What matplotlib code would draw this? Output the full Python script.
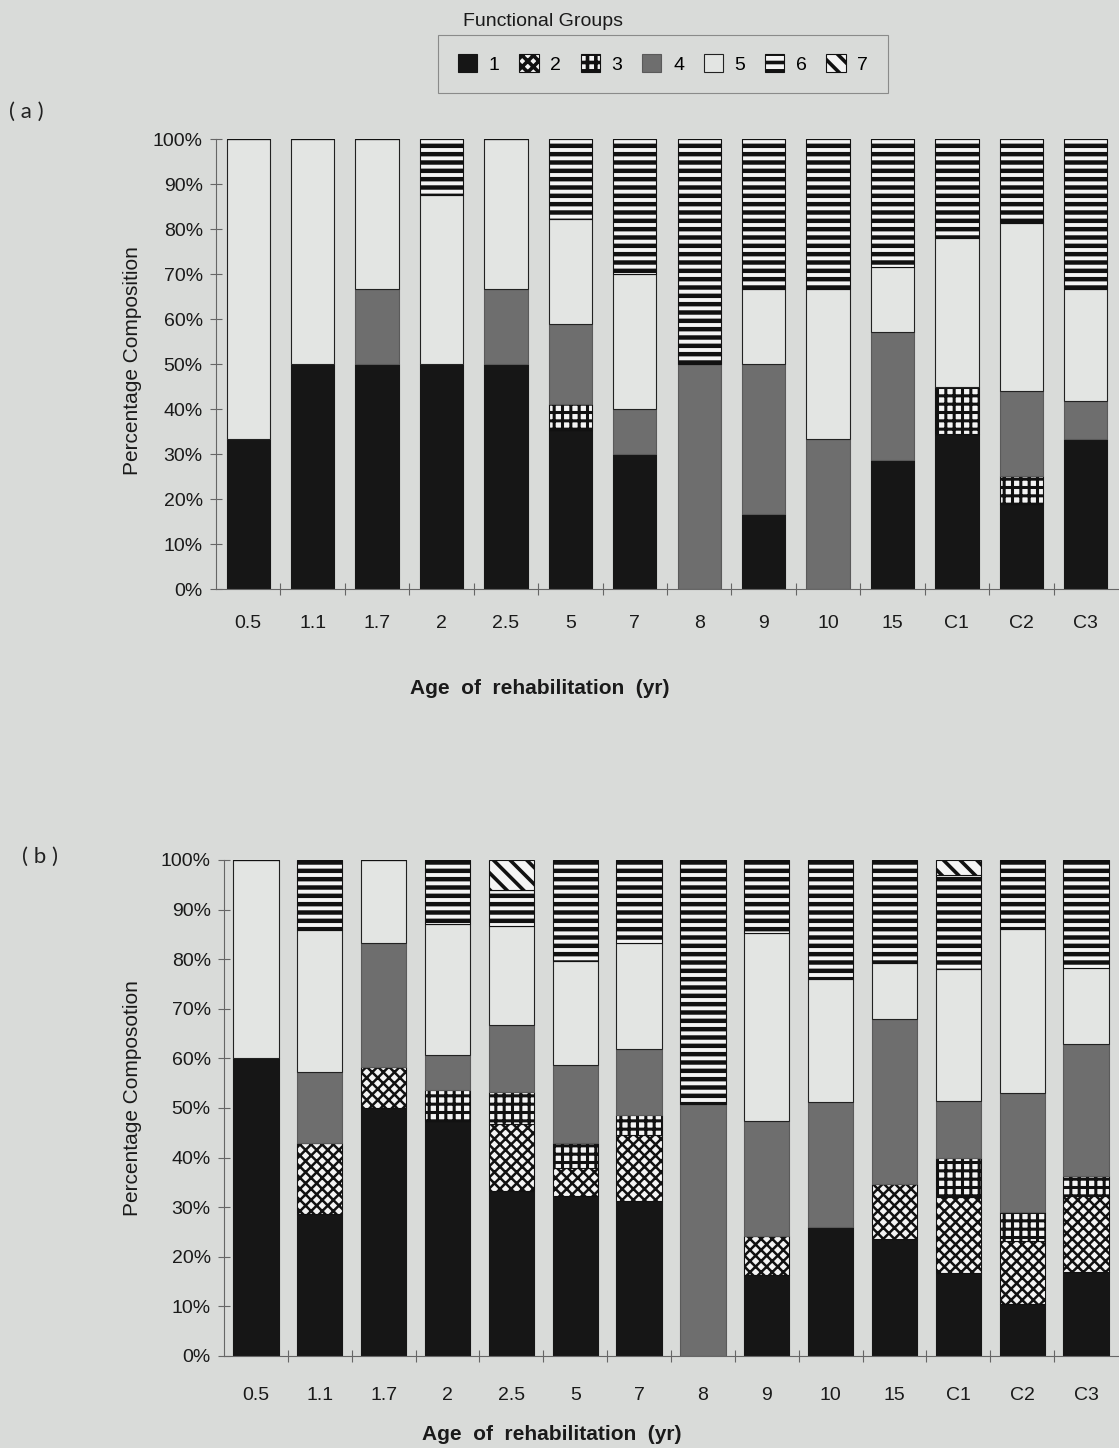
import numpy as np
import matplotlib
matplotlib.use("Agg")
import matplotlib.pyplot as plt
from matplotlib.patches import Patch

# categories (age of rehabilitation, yr)
categories = ['0.5', '1.1', '1.7', '2', '2.5', '5', '7', '8', '9', '10', '15', 'C1', 'C2', 'C3']
group_names = ['1', '2', '3', '4', '5', '6', '7']

# panel (a) percentage composition per functional group
a_g1 = [33.3, 50, 50, 50, 50, 35.3, 30, 0, 16.7, 0, 28.6, 34.5, 18.8, 33.3]
a_g2 = [0, 0, 0, 0, 0, 0, 0, 0, 0, 0, 0, 0, 0, 0]
a_g3 = [0, 0, 0, 0, 0, 5.9, 0, 0, 0, 0, 0, 10.3, 6.3, 0]
a_g4 = [0, 0, 16.7, 0, 16.7, 17.6, 10, 50, 33.3, 33.3, 28.6, 0, 18.8, 8.4]
a_g5 = [66.7, 50, 33.3, 37.5, 33.3, 23.5, 30, 0, 16.7, 33.3, 14.3, 33.1, 37.5, 25]
a_g6 = [0, 0, 0, 12.5, 0, 17.7, 30, 50, 33.3, 33.4, 28.5, 22.1, 18.6, 33.3]
a_g7 = [0, 0, 0, 0, 0, 0, 0, 0, 0, 0, 0, 0, 0, 0]

# panel (b)
b_g1 = [60, 28.6, 50, 47.3, 33.3, 32.3, 31.3, 0, 16.3, 26.1, 23.5, 16.7, 10.5, 17]
b_g2 = [0, 14.3, 8.3, 0, 13.4, 5.6, 13.2, 0, 7.8, 0, 11.2, 15.4, 12.6, 15.2]
b_g3 = [0, 0, 0, 6.4, 6.6, 5.1, 4.1, 0, 0, 0, 0, 7.8, 5.9, 4.1]
b_g4 = [0, 14.3, 25, 6.9, 13.4, 15.7, 13.2, 50.8, 23.2, 25.1, 33.3, 11.6, 24.1, 26.6]
b_g5 = [40, 28.6, 16.7, 26.5, 20, 21, 21.5, 0, 38, 24.9, 11.2, 26.6, 33, 15.3]
b_g6 = [0, 14.2, 0, 12.9, 7.2, 20.3, 16.7, 49.2, 14.7, 23.9, 20.8, 18.8, 13.9, 21.8]
b_g7 = [0, 0, 0, 0, 6.1, 0, 0, 0, 0, 0, 0, 3.1, 0, 0]

BG = '#d9dbd9'
W, H = 1119, 1448

# look of each functional group (face, edge, hatch, hatch linewidth)
STYLES = [
    dict(facecolor='#161616', edgecolor='#161616', hatch=None, hlw=1.0),
    dict(facecolor='#f4f4f4', edgecolor='#111111', hatch='xxx', hlw=1.8),
    dict(facecolor='#f4f4f4', edgecolor='#111111', hatch='++', hlw=2.2),
    dict(facecolor='#6e6e6e', edgecolor='#5a5a5a', hatch=None, hlw=1.0),
    dict(facecolor='#e3e5e3', edgecolor='#222222', hatch=None, hlw=1.0),
    dict(facecolor='#f4f4f4', edgecolor='#111111', hatch='--', hlw=3.2),
    dict(facecolor='#f4f4f4', edgecolor='#111111', hatch='\\\\', hlw=2.6),
]

plt.rcParams['font.family'] = ['Liberation Sans', 'DejaVu Sans']


def draw_panel(ax, groups, bar_width, label_pad):
    """Stacked percentage bars for one panel."""
    x = np.arange(len(categories))
    bottom = np.zeros(len(categories))
    for vals, st in zip(groups, STYLES):
        vals = np.array(vals, dtype=float)
        plt.rcParams['hatch.linewidth'] = st['hlw']
        ax.bar(x, vals, bar_width, bottom=bottom, facecolor=st['facecolor'],
               edgecolor=st['edgecolor'], hatch=st['hatch'], linewidth=0.8)
        bottom += vals

    ax.set_xlim(-0.5, len(categories) - 0.5)
    ax.set_ylim(0, 100)
    ax.set_facecolor('none')
    for side in ['top', 'right']:
        ax.spines[side].set_visible(False)
    for side in ['left', 'bottom']:
        ax.spines[side].set_color('#666666')
        ax.spines[side].set_linewidth(0.8)

    ax.set_yticks(np.arange(0, 101, 10))
    ax.set_yticklabels([f'{v}%' for v in range(0, 101, 10)])
    ax.tick_params(axis='y', direction='inout', length=9, width=0.8, color='#666666',
                   pad=5, labelsize=14, labelcolor='#1a1a1a')

    ax.set_xticks(x)
    ax.set_xticklabels(categories)
    ax.tick_params(axis='x', which='major', length=0, pad=label_pad, labelsize=14,
                   labelcolor='#1a1a1a')
    ax.set_xticks(np.arange(0.5, len(categories) - 1, 1), minor=True)
    ax.tick_params(axis='x', which='minor', direction='inout', length=9, width=0.8,
                   color='#666666')


def main():
    fig = plt.figure(figsize=(W / 100, H / 100), dpi=100, facecolor=BG)

    ax_a = fig.add_axes([216 / W, 1 - 589 / H, 902 / W, 450 / H])
    ax_b = fig.add_axes([224 / W, 1 - 1356 / H, 894 / W, 496 / H])

    draw_panel(ax_a, [a_g1, a_g2, a_g3, a_g4, a_g5, a_g6, a_g7], 0.67, 19)
    draw_panel(ax_b, [b_g1, b_g2, b_g3, b_g4, b_g5, b_g6, b_g7], 0.71, 22)

    # axis titles
    fig.text(133 / W, 1 - 361 / H, 'Percentage Composition', rotation=90,
             ha='center', va='center', fontsize=15, color='#1a1a1a')
    fig.text(133 / W, 1 - 1098 / H, 'Percentage Composotion', rotation=90,
             ha='center', va='center', fontsize=15, color='#1a1a1a')
    fig.text(540 / W, 1 - 688 / H, 'Age  of  rehabilitation  (yr)', ha='center',
             va='center', fontsize=15, fontweight='bold', color='#1a1a1a')
    fig.text(552 / W, 1 - 1434 / H, 'Age  of  rehabilitation  (yr)', ha='center',
             va='center', fontsize=15, fontweight='bold', color='#1a1a1a')

    # panel letters
    fig.text(26 / W, 1 - 112 / H, '( a )', ha='center', va='center', fontsize=16,
             family=['Lato', 'DejaVu Sans'], color='#222222')
    fig.text(40 / W, 1 - 857 / H, '( b )', ha='center', va='center', fontsize=16,
             family=['Lato', 'DejaVu Sans'], color='#222222')

    # legend
    handles = []
    for st in STYLES:
        plt.rcParams['hatch.linewidth'] = st['hlw']
        handles.append(Patch(facecolor=st['facecolor'], edgecolor=st['edgecolor'],
                             hatch=st['hatch'], linewidth=0.8))
    leg = fig.legend(handles, group_names, loc='center', ncol=7,
                     bbox_to_anchor=(663 / W, 1 - 64 / H), fontsize=14,
                     handlelength=1.0, handleheight=1.0, handletextpad=0.6,
                     columnspacing=1.0, borderpad=1.0, frameon=True, fancybox=False)
    leg.get_frame().set_facecolor(BG)
    leg.get_frame().set_edgecolor('#777777')
    leg.get_frame().set_linewidth(0.8)
    fig.text(463 / W, 1 - 21 / H, 'Functional Groups', ha='left', va='center',
             fontsize=14, color='#1a1a1a')

    fig.savefig('out.png', dpi=100, facecolor=BG)


if __name__ == "__main__":
    main()
